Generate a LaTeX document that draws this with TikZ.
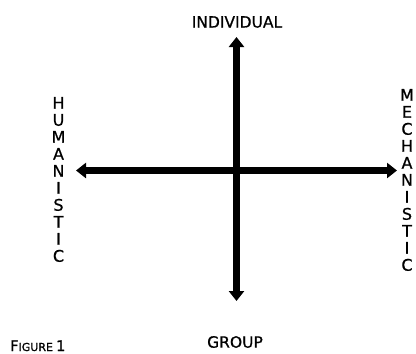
\documentclass[tikz,border=0pt]{standalone}
\usepackage{fontspec}
\setmainfont{DejaVu Sans}
\newfontfamily\lblfont[FakeBold=0.8]{DejaVu Sans}
\newfontfamily\figfont[FakeBold=1.2]{DejaVu Sans}
\usetikzlibrary{arrows.meta}
\begin{document}
\begin{tikzpicture}[x=1pt,y=-1pt,
  axis/.style={line width=6.5pt,{Triangle[length=10pt,width=15pt]}-{Triangle[length=10pt,width=15pt]}},
  lbl/.style={font=\lblfont\fontsize{15.5}{15.5}\selectfont,inner sep=0pt},
  vlbl/.style={font=\lblfont\fontsize{16}{17}\selectfont,align=center,inner sep=0pt}]
\useasboundingbox (0,0) rectangle (416,354);
\coordinate (top) at (236.5,37);
\coordinate (bot) at (236.5,301);
\coordinate (lft) at (76,170.5);
\coordinate (rgt) at (397,170.5);
\draw[axis] (bot) -- (top);
\draw[axis] (lft) -- (rgt);
\node[lbl] (ind) at (237,22) {INDIVIDUAL};
\node[lbl] (grp) at (235,342) {GROUP};
\node[vlbl] (hum) at (58.5,179.5) {H\\U\\M\\A\\N\\I\\S\\T\\I\\C};
\node[vlbl] (mech) at (407,180) {M\\E\\C\\H\\A\\N\\I\\S\\T\\I\\C};
\node[anchor=base west,inner sep=0pt,font=\figfont] (fig) at (10,351) {{\fontsize{14.5}{14.5}\selectfont F}{\fontsize{11}{11}\selectfont IGURE} {\fontsize{14.5}{14.5}\selectfont 1}};
\end{tikzpicture}
\end{document}
